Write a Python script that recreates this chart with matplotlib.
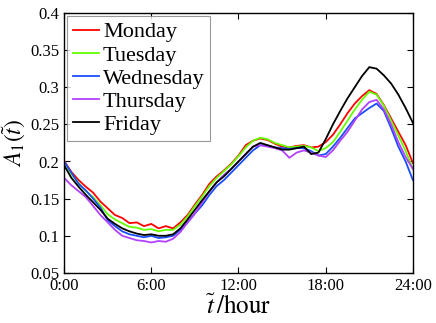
import numpy as np
import matplotlib
matplotlib.use("Agg")
import matplotlib.pyplot as plt

plt.rcParams['font.family'] = ['Liberation Serif', 'DejaVu Serif']
plt.rcParams['mathtext.fontset'] = 'stix'

# half-hour samples, 0:00 .. 24:00
hours = np.arange(0, 24.01, 0.5)

monday = [0.201, 0.186, 0.175, 0.166, 0.158, 0.146, 0.137, 0.128, 0.124, 0.117,
          0.118, 0.113, 0.116, 0.110, 0.113, 0.110, 0.118, 0.128, 0.142, 0.155,
          0.170, 0.180, 0.188, 0.197, 0.208, 0.222, 0.228, 0.231, 0.229, 0.224,
          0.220, 0.219, 0.221, 0.222, 0.219, 0.220, 0.226, 0.236, 0.250, 0.265,
          0.278, 0.288, 0.296, 0.291, 0.276, 0.258, 0.240, 0.222, 0.198]
tuesday = [0.200, 0.183, 0.171, 0.160, 0.152, 0.141, 0.129, 0.122, 0.117, 0.112,
           0.111, 0.108, 0.109, 0.106, 0.108, 0.108, 0.115, 0.126, 0.140, 0.153,
           0.167, 0.178, 0.187, 0.196, 0.207, 0.219, 0.228, 0.232, 0.230, 0.225,
           0.222, 0.219, 0.220, 0.221, 0.219, 0.214, 0.218, 0.226, 0.240, 0.255,
           0.270, 0.283, 0.294, 0.290, 0.275, 0.255, 0.235, 0.214, 0.190]
wednesday = [0.200, 0.185, 0.170, 0.161, 0.150, 0.138, 0.121, 0.113, 0.106, 0.102,
             0.100, 0.098, 0.100, 0.097, 0.098, 0.100, 0.108, 0.118, 0.130, 0.141,
             0.155, 0.167, 0.175, 0.185, 0.195, 0.205, 0.215, 0.222, 0.221, 0.219,
             0.218, 0.217, 0.218, 0.218, 0.214, 0.208, 0.210, 0.220, 0.232, 0.245,
             0.258, 0.265, 0.272, 0.278, 0.268, 0.245, 0.220, 0.200, 0.175]
thursday = [0.178, 0.168, 0.160, 0.152, 0.140, 0.128, 0.118, 0.108, 0.100, 0.097,
            0.094, 0.093, 0.091, 0.093, 0.092, 0.096, 0.105, 0.118, 0.130, 0.145,
            0.160, 0.172, 0.182, 0.190, 0.200, 0.210, 0.220, 0.222, 0.220, 0.218,
            0.215, 0.205, 0.212, 0.215, 0.212, 0.208, 0.206, 0.215, 0.228, 0.240,
            0.255, 0.270, 0.280, 0.283, 0.270, 0.250, 0.226, 0.206, 0.190]
friday = [0.195, 0.178, 0.166, 0.155, 0.145, 0.135, 0.123, 0.116, 0.110, 0.106,
          0.103, 0.101, 0.102, 0.100, 0.100, 0.102, 0.110, 0.122, 0.135, 0.148,
          0.160, 0.172, 0.180, 0.190, 0.200, 0.210, 0.220, 0.225, 0.222, 0.219,
          0.216, 0.216, 0.218, 0.220, 0.210, 0.212, 0.230, 0.250, 0.268, 0.285,
          0.300, 0.315, 0.327, 0.325, 0.316, 0.305, 0.290, 0.272, 0.252]

day_names = ['Monday', 'Tuesday', 'Wednesday', 'Thursday', 'Friday']
day_colors = ['#ff0000', '#66ff00', '#1a4dff', '#b240ff', '#000000']

xtick_pos = [0, 6, 12, 18, 24]
xtick_labels = ['0:00', '6:00', '12:00', '18:00', '24:00']
ytick_pos = [0.05, 0.1, 0.15, 0.2, 0.25, 0.3, 0.35, 0.4]
ytick_labels = ['0.05', '0.1', '0.15', '0.2', '0.25', '0.3', '0.35', '0.4']

fig = plt.figure(figsize=(4.36, 3.23), dpi=100)
ax = fig.add_axes([0.147, 0.155, 0.80, 0.805])

for vals, name, col in zip([monday, tuesday, wednesday, thursday, friday], day_names, day_colors):
    ax.plot(hours, vals, color=col, lw=1.3, label=name)

ax.set_xlim(0, 24)
ax.set_ylim(0.05, 0.4)
ax.set_xticks(xtick_pos)
ax.set_xticklabels(xtick_labels)
ax.set_yticks(ytick_pos)
ax.set_yticklabels(ytick_labels)
ax.tick_params(direction='in', top=True, right=True, labelsize=12, length=4, width=0.8)
for sp in ax.spines.values():
    sp.set_linewidth(1.0)

ax.set_xlabel(r'$\tilde{t}\,/\mathrm{hour}$', fontsize=18, labelpad=1)
ax.set_ylabel(r'$A_1(\tilde{t})$', fontsize=17, labelpad=2)

leg = ax.legend(loc='upper left', fontsize=16, handlelength=1.15, handletextpad=0.2,
                labelspacing=0.12, borderpad=0.25, borderaxespad=0.15, fancybox=False)
leg.get_frame().set_edgecolor('#808080')
leg.get_frame().set_linewidth(0.8)

fig.savefig('out.png', dpi=100)
